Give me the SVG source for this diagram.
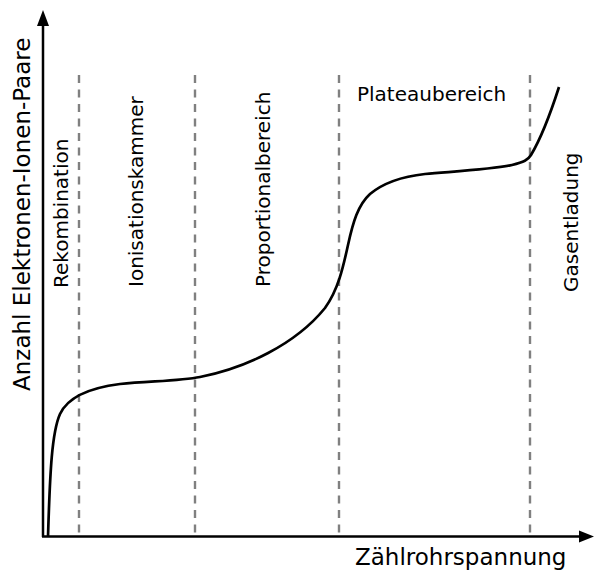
<svg xmlns="http://www.w3.org/2000/svg" width="595" height="570" viewBox="0 0 595 570">
<style>
text{font-family:"DejaVu Sans","Liberation Sans",sans-serif;fill:#000}
.lbl{font-size:20px}
.ax{font-size:23px}
.div{stroke:#808080;stroke-width:2.4;stroke-dasharray:8,6.5;fill:none}
.axis{stroke:#000;stroke-width:2.5;fill:none}
.curve{stroke:#000;stroke-width:2.7;fill:none}
</style>
<rect width="595" height="570" fill="#fff"/>
<g id="connectors">
<line class="div" x1="79" y1="75" x2="79" y2="536"/>
<line class="div" x1="195" y1="75" x2="195" y2="536"/>
<line class="div" x1="339" y1="75" x2="339" y2="536"/>
<line class="div" x1="530" y1="75" x2="530" y2="536"/>
<path class="axis" d="M43,537 V22"/>
<path class="axis" d="M42,536.5 H582"/>
<polygon points="43,10 37,26 49,26" fill="#000"/>
<polygon points="594,536.5 579,530.5 579,542.5" fill="#000"/>
<path class="curve" d="M48,537 C50,470 52,432 60,414 C68,397 88,388 120,384 C150,381 180,381 200,377 C245,368 295,345 325,308 C338,290 343,268 348,245 C353,222 358,205 370,194 C382,184 398,177 425,174 C460,171 495,169 512,165 C524,162 528,160 531,155 C540,140 550,115 559,87"/>
</g>
<g id="y-label"><text class="ax" transform="translate(30,391) rotate(-90)">Anzahl Elektronen-Ionen-Paare</text></g>
<g id="x-label"><text class="ax" x="355" y="565">Zählrohrspannung</text></g>
<g id="rekombination"><text class="lbl" transform="translate(68,288) rotate(-90)">Rekombination</text></g>
<g id="ionisationskammer"><text class="lbl" transform="translate(143,287) rotate(-90)">Ionisationskammer</text></g>
<g id="proportionalbereich"><text class="lbl" transform="translate(270,287) rotate(-90)">Proportionalbereich</text></g>
<g id="plateaubereich"><text class="lbl" x="357" y="101">Plateaubereich</text></g>
<g id="gasentladung"><text class="lbl" transform="translate(578,292) rotate(-90)">Gasentladung</text></g>
</svg>
